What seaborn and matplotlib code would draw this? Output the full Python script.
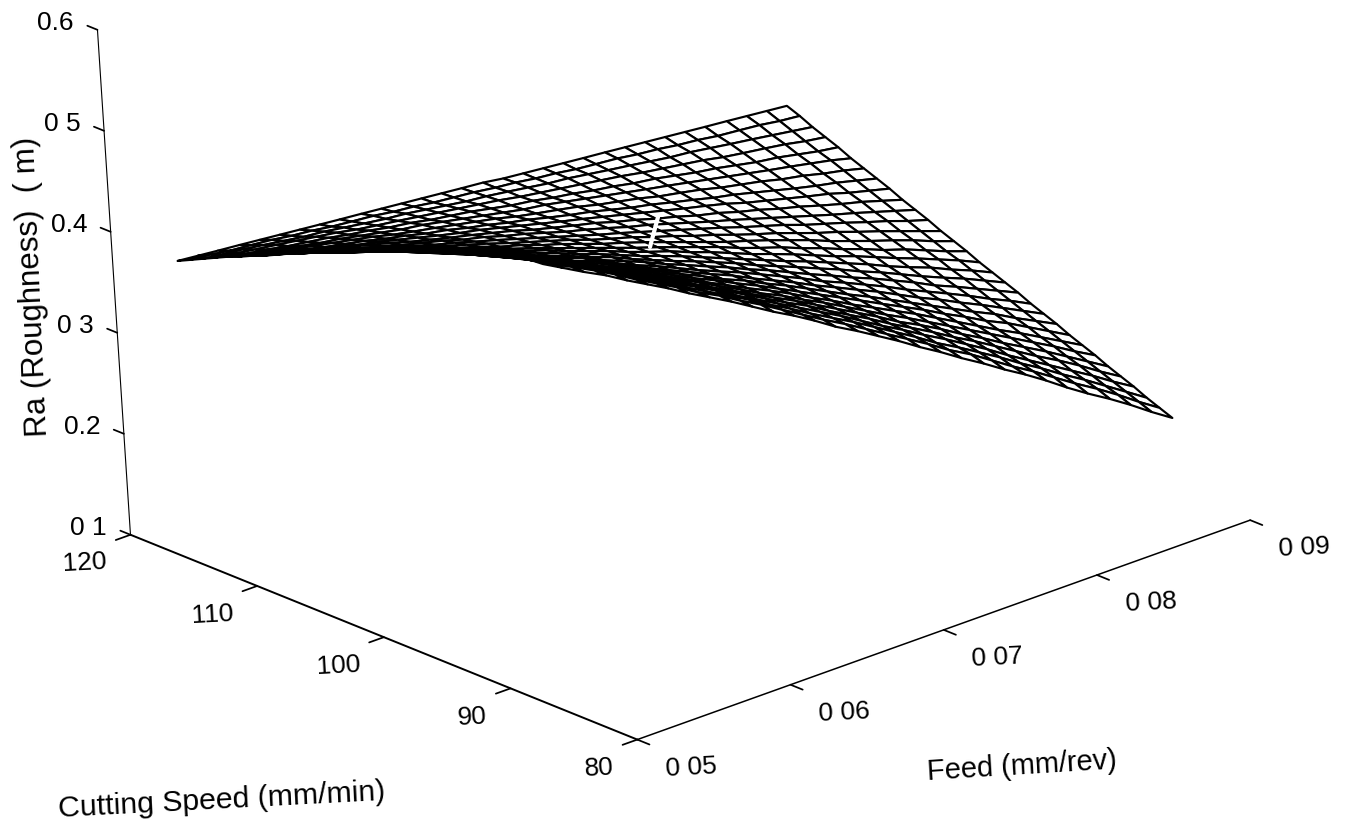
#!/usr/bin/env python3
"""Ra surface over cutting speed and feed"""

import numpy as np
import matplotlib
matplotlib.use('Agg')
import matplotlib.pyplot as plt
from matplotlib.lines import Line2D
import seaborn as sns

sns.set_theme(style='white')
plt.rcParams['font.family'] = ['Liberation Sans', 'DejaVu Sans']

feed = [0.051, 0.0523, 0.0536, 0.0550, 0.0563, 0.0576, 0.0589, 0.0602, 0.0615, 0.0629, 0.0642,
        0.0655, 0.0668, 0.0681, 0.0694, 0.0708, 0.0721, 0.0734, 0.0747, 0.0760, 0.0773,
        0.0787, 0.0800, 0.0813, 0.0826, 0.0839, 0.0852, 0.0866, 0.0879, 0.0892, 0.0905]
speed = [86.4, 87.39, 88.37, 89.36, 90.35, 91.33, 92.32, 93.31, 94.29, 95.28, 96.27,
         97.25, 98.24, 99.23, 100.21, 101.2, 102.19, 103.17, 104.16, 105.15, 106.13,
         107.12, 108.11, 109.09, 110.08, 111.07, 112.05, 113.04, 114.03, 115.01, 116]
# Ra, one row per speed, one column per feed
ra = [
    [.533, .522, .511, .500, .488, .477, .466, .454, .443, .431, .419, .407, .396, .384, .371, .359, .347, .335, .322, .310, .297, .284, .271, .259, .246, .232, .219, .206, .193, .179, .166],
    [.532, .521, .511, .500, .489, .477, .466, .455, .443, .432, .420, .409, .397, .385, .373, .361, .349, .337, .325, .313, .300, .288, .275, .262, .250, .237, .224, .211, .198, .184, .171],
    [.530, .519, .508, .498, .487, .476, .465, .454, .443, .431, .420, .409, .397, .386, .374, .362, .351, .339, .327, .315, .302, .290, .278, .266, .253, .241, .228, .215, .202, .189, .176],
    [.526, .516, .506, .495, .485, .474, .463, .453, .442, .431, .420, .408, .397, .386, .375, .363, .352, .340, .328, .317, .305, .293, .281, .269, .256, .244, .232, .219, .207, .194, .182],
    [.523, .513, .502, .492, .482, .472, .461, .451, .440, .429, .419, .408, .397, .386, .375, .364, .352, .341, .330, .318, .307, .295, .283, .272, .260, .248, .236, .224, .212, .199, .187],
    [.518, .508, .499, .489, .479, .469, .458, .448, .438, .428, .417, .406, .396, .385, .375, .364, .353, .342, .331, .320, .308, .297, .286, .274, .263, .251, .240, .228, .216, .204, .192],
    [.514, .505, .495, .485, .476, .466, .456, .446, .436, .426, .416, .406, .395, .385, .374, .364, .353, .343, .332, .321, .310, .299, .288, .277, .266, .255, .244, .232, .221, .209, .198],
    [.510, .500, .491, .482, .472, .463, .453, .444, .434, .424, .414, .404, .394, .384, .374, .364, .354, .343, .333, .322, .312, .301, .291, .280, .269, .258, .247, .236, .225, .214, .203],
    [.505, .496, .487, .478, .469, .460, .450, .441, .432, .422, .413, .403, .393, .384, .374, .364, .354, .344, .334, .324, .314, .303, .293, .283, .272, .262, .251, .241, .230, .219, .208],
    [.500, .491, .483, .474, .465, .456, .447, .438, .429, .420, .411, .402, .392, .383, .373, .364, .354, .345, .335, .325, .315, .305, .295, .285, .275, .265, .255, .245, .234, .224, .214],
    [.495, .487, .479, .470, .461, .453, .444, .436, .427, .418, .409, .400, .391, .382, .373, .364, .354, .345, .336, .326, .317, .307, .298, .288, .278, .269, .259, .249, .239, .229, .219],
    [.490, .482, .474, .466, .458, .449, .441, .433, .424, .416, .407, .398, .390, .381, .372, .363, .355, .346, .337, .328, .318, .309, .300, .291, .281, .272, .263, .253, .243, .234, .224],
    [.485, .478, .470, .462, .454, .446, .438, .430, .422, .414, .405, .397, .389, .380, .372, .363, .355, .346, .338, .329, .320, .311, .302, .294, .285, .276, .266, .257, .248, .239, .230],
    [.480, .473, .465, .458, .450, .442, .435, .427, .419, .411, .403, .396, .387, .379, .371, .363, .355, .347, .338, .330, .322, .313, .305, .296, .288, .279, .270, .261, .253, .244, .235],
    [.475, .468, .461, .453, .446, .439, .431, .424, .417, .409, .401, .394, .386, .378, .371, .363, .355, .347, .339, .331, .323, .315, .307, .299, .291, .282, .274, .266, .257, .249, .240],
    [.470, .463, .456, .449, .442, .435, .428, .421, .414, .407, .399, .392, .385, .377, .370, .363, .355, .348, .340, .332, .325, .317, .309, .301, .294, .286, .278, .270, .262, .254, .245],
    [.464, .458, .451, .445, .438, .431, .425, .418, .411, .404, .397, .390, .383, .376, .369, .362, .355, .348, .341, .333, .326, .319, .311, .304, .296, .289, .281, .274, .266, .258, .251],
    [.459, .453, .447, .440, .434, .428, .421, .415, .408, .402, .395, .389, .382, .375, .369, .362, .355, .348, .341, .334, .328, .321, .314, .307, .299, .292, .285, .278, .271, .263, .256],
    [.454, .448, .442, .436, .430, .424, .418, .412, .406, .399, .393, .387, .381, .374, .368, .362, .355, .349, .342, .336, .329, .322, .316, .309, .302, .296, .289, .282, .275, .268, .261],
    [.449, .443, .437, .432, .426, .420, .414, .409, .403, .397, .391, .385, .379, .373, .367, .361, .355, .349, .343, .337, .331, .324, .318, .312, .305, .299, .293, .286, .280, .273, .267],
    [.443, .438, .433, .427, .422, .416, .411, .406, .400, .395, .389, .384, .378, .372, .367, .361, .355, .350, .344, .338, .332, .326, .320, .314, .308, .302, .296, .290, .284, .278, .272],
    [.438, .433, .428, .423, .418, .413, .407, .402, .397, .392, .387, .382, .376, .371, .366, .361, .355, .350, .344, .339, .333, .328, .322, .317, .311, .306, .300, .294, .289, .283, .277],
    [.432, .427, .423, .418, .413, .409, .404, .399, .394, .389, .385, .380, .375, .370, .365, .360, .355, .350, .345, .340, .335, .330, .325, .319, .314, .309, .304, .299, .293, .288, .283],
    [.426, .422, .418, .413, .409, .405, .400, .396, .391, .387, .382, .378, .373, .369, .364, .359, .355, .350, .345, .341, .336, .331, .326, .322, .317, .312, .307, .302, .298, .293, .288],
    [.421, .417, .413, .409, .405, .401, .397, .392, .388, .384, .380, .376, .372, .367, .363, .359, .355, .350, .346, .342, .337, .333, .329, .324, .320, .316, .311, .307, .302, .298, .293],
    [.415, .412, .408, .404, .400, .397, .393, .389, .385, .382, .378, .374, .370, .366, .362, .359, .355, .351, .347, .343, .339, .335, .331, .327, .323, .319, .315, .311, .307, .303, .298],
    [.410, .406, .403, .399, .396, .393, .389, .386, .382, .379, .375, .372, .369, .365, .361, .358, .354, .351, .347, .344, .340, .337, .333, .329, .326, .322, .318, .315, .311, .307, .304],
    [.404, .401, .398, .395, .392, .389, .386, .382, .379, .376, .373, .370, .367, .364, .361, .357, .354, .351, .348, .345, .342, .338, .335, .332, .329, .325, .322, .319, .316, .312, .309],
    [.398, .395, .393, .390, .387, .384, .382, .379, .376, .373, .371, .368, .365, .362, .360, .357, .354, .351, .349, .346, .343, .340, .337, .334, .332, .329, .326, .323, .320, .317, .314],
    [.392, .390, .387, .385, .383, .380, .378, .375, .373, .371, .368, .366, .363, .361, .359, .356, .354, .351, .349, .346, .344, .342, .339, .337, .334, .332, .329, .327, .325, .322, .320],
    [.386, .384, .382, .380, .378, .376, .374, .372, .370, .368, .366, .364, .362, .360, .358, .356, .353, .351, .349, .347, .345, .343, .341, .339, .337, .335, .333, .331, .329, .327, .325],
]

feed_ticks = [0.05, 0.06, 0.07, 0.08, 0.09]
feed_labels = ['0 05', '0 06', '0 07', '0 08', '0 09']
speed_ticks = [80, 90, 100, 110, 120]
speed_labels = ['80', '90', '100', '110', '120']
ra_ticks = [0.1, 0.2, 0.3, 0.4, 0.5, 0.6]
ra_labels = ['0 1', '0.2', '0 3', '0.4', '0 5', '0.6']

fig = plt.figure(figsize=(13.56, 8.31), dpi=100)
ax = fig.add_axes([-22.5 / 1356, -140.3 / 831, 1, 1356 / 831], projection='3d', proj_type='ortho')
ax.view_init(elev=21.8, azim=-127.6, roll=3.74)
ax.set_box_aspect((790, 807, 545), zoom=0.8977)
ax.patch.set_alpha(0)

X, Y = np.meshgrid(feed, speed)
ax.plot_surface(X, Y, np.array(ra), rstride=1, cstride=1, color='white', shade=False,
                edgecolor='black', linewidth=1.55)

ax.set_xlim(0.05, 0.09)
ax.set_ylim(80, 120)
ax.set_zlim(0.1, 0.6)
ax.set_xticks(feed_ticks)
ax.set_xticklabels(feed_labels, fontsize=19, rotation=3, ha='left', va='baseline')
ax.set_yticks(speed_ticks)
ax.set_yticklabels(speed_labels, fontsize=19, rotation=3, ha='right', va='center')
ax.set_zticks(ra_ticks)
ax.set_zticklabels(ra_labels, fontsize=19, ha='center', va='baseline')
ax.grid(False)

for axis in [ax.xaxis, ax.yaxis, ax.zaxis]:
    axis.pane.set_visible(False)
    axis.line.set_color('black')
    axis._axinfo['tick']['inward_factor'] = 0.3
    axis._axinfo['tick']['outward_factor'] = 0
    axis.set_tick_params(color='black', width=1.2, labelcolor='black')
ax.xaxis.line.set_linewidth(1.1)
ax.yaxis.line.set_linewidth(1.4)
ax.zaxis.line.set_linewidth(0.8)
ax.zaxis.set_ticks_position('upper')
ax.zaxis._get_tickdir = lambda position: 1
ax.zaxis._axinfo['tick']['inward_factor'] = 0
ax.zaxis._axinfo['tick']['outward_factor'] = 0.25
ax.tick_params(axis='x', pad=18)
ax.tick_params(axis='y', pad=12)
ax.tick_params(axis='z', pad=11)

fig.text(32 / 1356, 1 - 287 / 831, 'Ra (Roughness)  ( m)', fontsize=22.5, rotation=92.5,
         ha='center', va='center', color='black')
fig.text(222 / 1356, 1 - 800 / 831, 'Cutting Speed (mm/min)', fontsize=21.8, rotation=3,
         ha='center', va='center', color='black')
fig.text(1022 / 1356, 1 - 766 / 831, 'Feed (mm/rev)', fontsize=20.9, rotation=3.5,
         ha='center', va='center', color='black')

# white scratch across the mesh in the scan
fig.add_artist(Line2D([658 / 1356, 650 / 1356], [1 - 217 / 831, 1 - 247 / 831],
                      color='white', linewidth=3))

fig.savefig('out.png', dpi=100)
